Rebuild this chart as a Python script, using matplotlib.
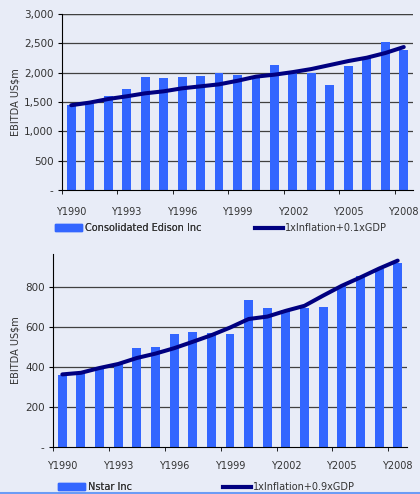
import matplotlib
matplotlib.use("Agg")
import matplotlib.pyplot as plt
from matplotlib.patches import Patch
from matplotlib.lines import Line2D
from matplotlib.ticker import FuncFormatter

years = list(range(1990, 2009))
tick_years = [1990, 1993, 1996, 1999, 2002, 2005, 2008]

coned_ebitda = [1450, 1470, 1600, 1720, 1920, 1905, 1920, 1940, 1995, 1955,
                1925, 2125, 2000, 1990, 1785, 2110, 2265, 2515, 2380]
coned_bench = [1445, 1490, 1551, 1597, 1648, 1682, 1733, 1767, 1801, 1862,
               1932, 1966, 2010, 2062, 2130, 2198, 2255, 2335, 2437]

nstar_ebitda = [362, 372, 392, 415, 493, 498, 564, 574, 569, 564,
                736, 695, 685, 695, 700, 805, 857, 888, 918]
nstar_bench = [363, 371, 395, 415, 445, 467, 494, 526, 559, 597,
               640, 652, 681, 706, 757, 806, 848, 892, 932]

bg = "#e8ecf7"
bar_col = "#3366ff"
line_col = "#000080"
txt = "#333333"

fig = plt.figure(figsize=(4.2, 4.94), dpi=100, facecolor=bg)


def fmt(v, pos):
    if v == 0:
        return "-"
    return f"{v:,.0f}"


def draw(ax, vals, bench, ymax, yticks, bar_label, line_label, leg_y, leg_x1, leg_x2, xpad):
    ax.set_facecolor(bg)
    x = list(range(len(years)))
    ax.bar(x, vals, width=0.48, color=bar_col, zorder=2)
    ax.plot(x, bench, color=line_col, lw=2.9, solid_capstyle="round", zorder=3)
    ax.set_xlim(-0.5, len(years) - 0.5)
    ax.set_ylim(0, ymax)
    ax.set_yticks(yticks)
    ax.yaxis.set_major_formatter(FuncFormatter(fmt))
    for t in yticks:
        if t > 0:
            ax.axhline(t, color="#404040", lw=0.9, zorder=1)
    ax.set_xticks([years.index(y) for y in tick_years])
    ax.set_xticklabels([f"Y{y}" for y in tick_years])
    ax.set_xticks([years.index(y) - 0.5 for y in tick_years], minor=True)
    ax.tick_params(axis="x", which="major", length=0, pad=xpad, labelsize=7, labelcolor=txt)
    ax.tick_params(axis="x", which="minor", length=3, direction="out", color="black")
    ax.tick_params(axis="y", length=3, direction="out", labelsize=7.5, labelcolor=txt, pad=3)
    for s in ["top", "right"]:
        ax.spines[s].set_visible(False)
    ax.spines["left"].set_color("black")
    ax.spines["bottom"].set_color("black")
    l1 = fig.legend(handles=[Patch(color=bar_col)], labels=[bar_label],
                    loc="center left", bbox_to_anchor=(leg_x1, leg_y), frameon=False,
                    fontsize=7, handlelength=2.8, handleheight=0.8, handletextpad=0.3,
                    borderaxespad=0, borderpad=0, labelcolor=txt)
    fig.legend(handles=[Line2D([0], [0], color=line_col, lw=3)], labels=[line_label],
               loc="center left", bbox_to_anchor=(leg_x2, leg_y), frameon=False,
               fontsize=7, handlelength=2.9, handletextpad=0.2,
               borderaxespad=0, borderpad=0, labelcolor=txt)
    fig.add_artist(l1)


ax1 = fig.add_axes([62 / 420, 1 - 190 / 494, 351 / 420, 176 / 494])
draw(ax1, coned_ebitda, coned_bench, 3000, [0, 500, 1000, 1500, 2000, 2500, 3000],
     "Consolidated Edison Inc", "1xInflation+0.1xGDP",
     1 - 228 / 494, 55 / 420, 255 / 420, 12)
ax1.axhline(3000, color="#404040", lw=0.9, zorder=1)

ax2 = fig.add_axes([53 / 420, 1 - 447 / 494, 354 / 420, 193 / 494])
draw(ax2, nstar_ebitda, nstar_bench, 965, [0, 200, 400, 600, 800],
     "Nstar Inc", "1xInflation+0.9xGDP",
     1 - 487 / 494, 58 / 420, 223 / 420, 10)

fig.text(15 / 420, 1 - 102 / 494, "EBITDA US$m", rotation=90, ha="center", va="center",
         fontsize=7, color=txt)
fig.text(15 / 420, 1 - 350 / 494, "EBITDA US$m", rotation=90, ha="center", va="center",
         fontsize=7, color=txt)

fig.add_artist(Line2D([0, 1], [1.5 / 494, 1.5 / 494], color="#6b9cf5", lw=2.2,
                      transform=fig.transFigure))

fig.savefig("out.png", dpi=100, facecolor=bg)
